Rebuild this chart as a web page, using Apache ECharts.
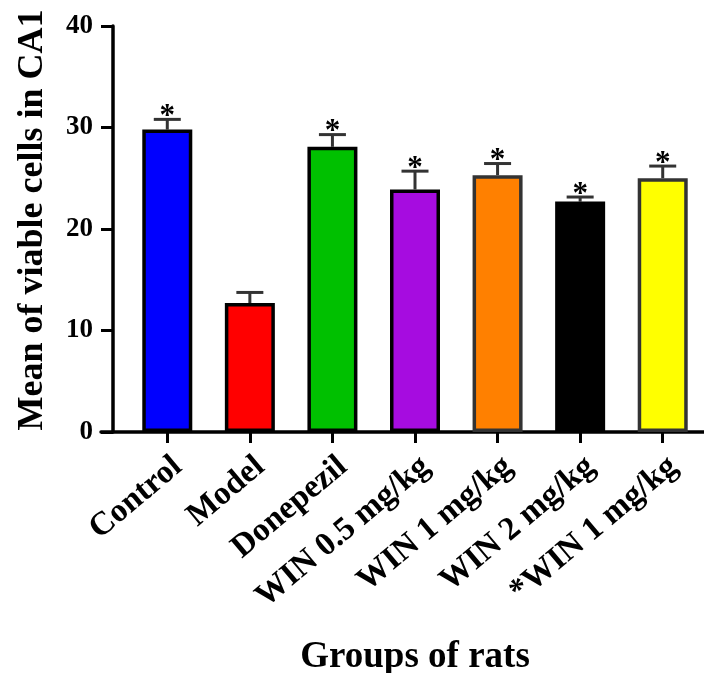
<!DOCTYPE html>
<html>
<head>
<meta charset="utf-8">
<style>
  html, body { margin: 0; padding: 0; background: #fff; }
  #chart { width: 704px; height: 673px; }
</style>
<script src="https://cdn.jsdelivr.net/npm/echarts@6/dist/echarts.min.js"></script>
</head>
<body>
<div id="chart"></div>
<script>
// Groups and their mean viable cell counts (± SEM) in the CA1 region
const categories = ['Control', 'Model', 'Donepezil', 'WIN 0.5 mg/kg', 'WIN 1 mg/kg', 'WIN 2 mg/kg', '*WIN 1 mg/kg'];
const means = [29.8, 12.7, 28.1, 23.9, 25.3, 22.7, 25.0];
const sems = [1.0, 1.05, 1.2, 1.8, 1.15, 0.45, 1.2];
const significance = ['*', '', '*', '*', '*', '*', '*'];
const barColors = ['#0000FF', '#FF0000', '#00C000', '#A60CE0', '#FF8000', '#000000', '#FFFF00'];
const barBorders = ['#000000', '#000000', '#000000', '#000000', '#333333', '#000000', '#333333'];
const yTicks = [0, 10, 20, 30, 40];

const FONT = "'Liberation Serif', 'Times New Roman', serif";

const chart = echarts.init(document.getElementById('chart'));

const barData = means.map((v, i) => ({
  value: v,
  itemStyle: { color: barColors[i], borderColor: barBorders[i] }
}));

const errData = means.map((v, i) => [i, v, sems[i]]);

const option = {
  backgroundColor: '#ffffff',
  animation: false,
  grid: [
    { left: 126, right: 0, top: 26, bottom: 241, outerBoundsMode: 'none', containLabel: false },
    { left: 101, right: 0, top: 26, bottom: 241, outerBoundsMode: 'none', containLabel: false }
  ],
  xAxis: [
    {
      type: 'category',
      gridIndex: 0,
      data: categories,
      axisLine: { show: false },
      axisTick: { show: true, alignWithLabel: true, length: 11, lineStyle: { color: '#000', width: 3 } },
      axisLabel: {
        rotate: 40,
        margin: 18,
        interval: 0,
        verticalAlign: 'top',
        color: '#000',
        fontFamily: FONT,
        fontWeight: 'bold',
        fontSize: 33
      },
      name: 'Groups of rats',
      nameLocation: 'middle',
      nameGap: 207,
      nameTextStyle: { color: '#000', fontFamily: FONT, fontWeight: 'bold', fontSize: 37 }
    },
    {
      // base line of the plot, running under the y axis ticks
      type: 'value',
      gridIndex: 1,
      min: 0,
      max: 1,
      axisLine: { show: true, onZero: false, lineStyle: { color: '#000', width: 3.5 } },
      axisTick: { show: false },
      axisLabel: { show: false },
      splitLine: { show: false }
    }
  ],
  yAxis: [
    {
      type: 'value',
      gridIndex: 0,
      min: yTicks[0],
      max: yTicks[yTicks.length - 1],
      interval: 10,
      offset: 13,
      axisLine: { show: true, lineStyle: { color: '#000', width: 3.5 } },
      axisTick: { show: true, length: 12, lineStyle: { color: '#000', width: 3 } },
      axisLabel: { margin: 20, color: '#000', fontFamily: FONT, fontWeight: 'bold', fontSize: 27 },
      splitLine: { show: false },
      name: 'Mean of viable cells in CA1',
      nameLocation: 'middle',
      nameGap: 62,
      nameTextStyle: { color: '#000', fontFamily: FONT, fontWeight: 'bold', fontSize: 36, padding: [0, 0, 0, 18] }
    },
    {
      type: 'value',
      gridIndex: 1,
      min: 0,
      max: 1,
      show: false
    }
  ],
  series: [
    {
      type: 'custom',
      xAxisIndex: 0,
      yAxisIndex: 0,
      data: errData,
      z: 1,
      renderItem: function (params, api) {
        const x = api.value(0);
        const mean = api.value(1);
        const sem = api.value(2);
        const star = significance[params.dataIndex];
        const base = api.coord([x, mean]);
        const top = api.coord([x, mean + sem]);
        const capHalf = 13.5;
        const style = { stroke: '#333333', lineWidth: 3 };
        const children = [
          { type: 'line', shape: { x1: base[0], y1: base[1], x2: top[0], y2: top[1] }, style: style },
          { type: 'line', shape: { x1: top[0] - capHalf, y1: top[1], x2: top[0] + capHalf, y2: top[1] }, style: style }
        ];
        if (star) {
          children.push({
            type: 'text',
            style: {
              text: star,
              x: top[0],
              y: top[1] + 13,
              align: 'center',
              verticalAlign: 'bottom',
              fill: '#000',
              font: 'bold 31px ' + FONT
            }
          });
        }
        return { type: 'group', children: children };
      }
    },
    {
      type: 'bar',
      xAxisIndex: 0,
      yAxisIndex: 0,
      data: barData,
      barWidth: 50,
      z: 2,
      itemStyle: { borderWidth: 3.5 }
    }
  ]
};

chart.setOption(option);
</script>
</body>
</html>
